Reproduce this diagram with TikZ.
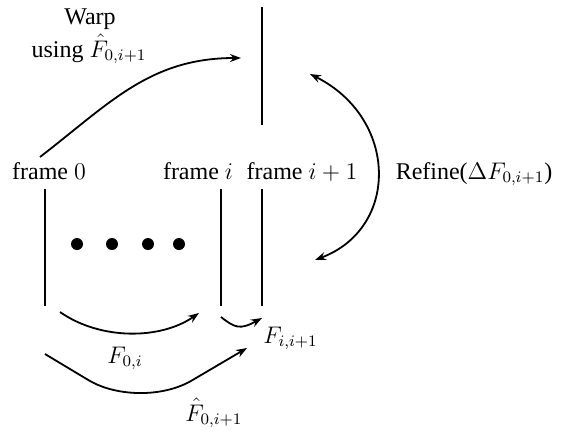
\documentclass[tikz,border=0pt]{standalone}
\usepackage{fontspec}
\setmainfont{Liberation Serif}
\usetikzlibrary{arrows.meta}
\begin{document}
\begin{tikzpicture}[x=0.5pt,y=-0.5pt,
  lbl/.style={inner sep=0pt,font=\fontsize{12}{14}\selectfont},
  frameline/.style={line width=1pt},
  arr/.style={line width=0.9pt,-{Stealth[length=5.5pt,width=4pt]}},
  dblarr/.style={line width=0.9pt,{Stealth[length=5.5pt,width=4pt]}-{Stealth[length=5.5pt,width=4pt]}},
  dot/.style={circle,fill=black,inner sep=0pt,minimum size=6pt}]
\useasboundingbox (0,0) rectangle (567,430);

% labels
\node[lbl,anchor=base] (warpA) at (90,24) {Warp};
\node[lbl,anchor=base] (warpB) at (89,57) {using $\hat{F}_{0,i+1}$};
\node[lbl,anchor=base] (frame0) at (49,179) {frame $0$};
\node[lbl,anchor=base] (framei) at (198,179) {frame $i$};
\node[lbl,anchor=base] (frameii) at (302,179) {frame $i+1$};
\node[lbl,anchor=base] (refine) at (474,179) {Refine($\Delta F_{0,i+1}$)};
\node[lbl,anchor=base] (f0i) at (125,363) {$F_{0,i}$};
\node[lbl,anchor=base west] (fii) at (263,343) {$F_{i,i+1}$};
\node[lbl,anchor=base west] (fhat) at (185,421) {$\hat{F}_{0,i+1}$};

% frame lines
\coordinate (topA) at (262,7);
\coordinate (topB) at (262,125);
\coordinate (l0a) at (45,189);
\coordinate (l0b) at (45,306);
\coordinate (lia) at (221,189);
\coordinate (lib) at (221,306);
\coordinate (liia) at (262,189);
\coordinate (liib) at (262,306);
\draw[frameline] (topA) -- (topB);
\draw[frameline] (l0a) -- (l0b);
\draw[frameline] (lia) -- (lib);
\draw[frameline] (liia) -- (liib);

% dots
\node[dot] (d1) at (77,244) {};
\node[dot] (d2) at (112,244) {};
\node[dot] (d3) at (148,244) {};
\node[dot] (d4) at (179,244) {};

% arrows
\coordinate (ws) at (40,157);
\coordinate (we) at (241,58);
\draw[arr] (ws) .. controls (110,103) and (150,58) .. (we);

\coordinate (as) at (60,312);
\coordinate (ae) at (199,313);
\draw[arr] (as) .. controls (100,340) and (160,340) .. (ae);

\coordinate (bs) at (221,317);
\coordinate (be) at (262,318);
\draw[arr] (bs) .. controls (235,328) and (240,330) .. (be);

\coordinate (cs) at (45,354);
\coordinate (cm) at (140,411);
\coordinate (ce) at (247,348);
\draw[arr,rounded corners=30pt] (cs) -- (cm) -- (ce);

\coordinate (rs) at (310,74);
\coordinate (re) at (315,260);
\draw[dblarr] (rs) .. controls (398,118) and (400,228) .. (re);
\end{tikzpicture}
\end{document}
